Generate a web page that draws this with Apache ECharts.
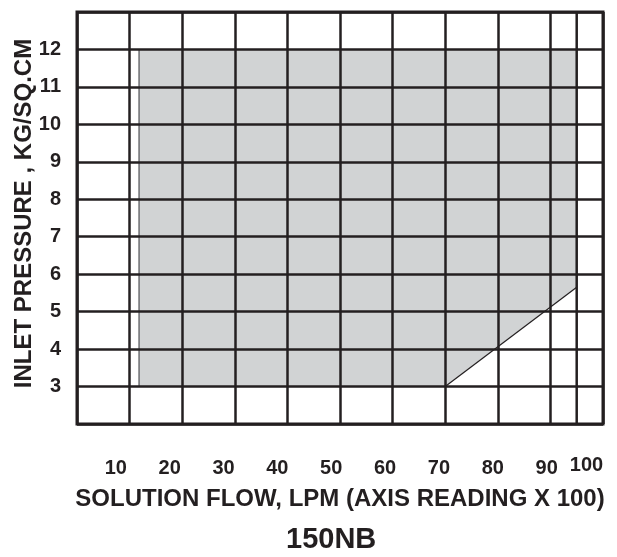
<!DOCTYPE html>
<html>
<head>
<meta charset="utf-8">
<script src="https://cdn.jsdelivr.net/npm/echarts@6/dist/echarts.min.js"></script>
<style>
html,body{margin:0;padding:0;background:#fff;}
#chart{width:617px;height:557px;}
</style>
</head>
<body>
<div id="chart"></div>
<script>
// ---- data ----
const xTickLabels = [10, 20, 30, 40, 50, 60, 70, 80, 90, 100];
const yTickLabels = [3, 4, 5, 6, 7, 8, 9, 10, 11, 12];
const extraGridX = [95];
// operating envelope (shaded area): flow (x) and pressure (y)
const envelopeX = [11.8, 11.8, 95, 95, 70];
const envelopeY = [3, 12, 12, 5.65, 3];

const ink = '#231f20';
const font = "'Liberation Sans', Arial, sans-serif";

const envelope = envelopeX.map((x, i) => [x, envelopeY[i]]);

const chart = echarts.init(document.getElementById('chart'), null, {renderer: 'canvas'});
chart.setOption({
  animation: false,
  backgroundColor: '#ffffff',
  title: {
    text: '150NB',
    left: 286,
    top: 525,
    padding: 0,
    textStyle: {fontFamily: font, fontWeight: 'bold', fontSize: 29, color: ink}
  },
  grid: {
    left: 77, top: 12, right: 14, bottom: 133,
    containLabel: false, outerBoundsMode: 'none',
    show: true, borderColor: ink, borderWidth: 3, backgroundColor: 'transparent'
  },
  xAxis: [{
    type: 'value', min: 0, max: 100, interval: 10, z: 5,
    axisLine: {show: false}, axisTick: {show: false}, axisLabel: {show: false},
    splitLine: {show: true, lineStyle: {color: ink, width: 2.5}},
    name: 'SOLUTION FLOW, LPM (AXIS READING X 100)',
    nameLocation: 'middle', nameGap: 63, nameMoveOverlap: false,
    nameTextStyle: {fontFamily: font, fontWeight: 'bold', fontSize: 24, color: ink}
  }, {
    type: 'value', min: 2.8, max: 100.46, position: 'bottom', z: 5,
    axisLine: {show: false}, axisTick: {show: false}, splitLine: {show: false},
    axisLabel: {
      show: true, customValues: xTickLabels, margin: 34,
      fontFamily: font, fontWeight: 'bold', fontSize: 20, color: ink,
      formatter: v => v === 100 ? '{b|100}' : '{a|' + v + '}',
      rich: {
        a: {fontFamily: font, fontWeight: 'bold', fontSize: 20, color: ink, lineHeight: 20},
        b: {fontFamily: font, fontWeight: 'bold', fontSize: 20, color: ink, lineHeight: 14, padding: [0, 28, 0, 0]}
      }
    }
  }],
  yAxis: {
    type: 'value', min: 2, max: 13, interval: 1, z: 5,
    axisLine: {show: false}, axisTick: {show: false},
    axisLabel: {
      customValues: yTickLabels, margin: 16,
      fontFamily: font, fontWeight: 'bold', fontSize: 20, color: ink
    },
    splitLine: {show: true, lineStyle: {color: ink, width: 2.5}},
    name: 'INLET PRESSURE , KG/SQ.CM',
    nameLocation: 'middle', nameGap: 41, nameRotate: 90, nameMoveOverlap: false,
    nameTextStyle: {fontFamily: font, fontWeight: 'bold', fontSize: 24, color: ink, padding: [0, 0, 0, 9]}
  },
  series: [{
    type: 'custom',
    coordinateSystem: 'cartesian2d',
    xAxisIndex: 0, yAxisIndex: 0,
    z: 1,
    data: [envelope[0]],
    silent: true,
    renderItem: function (params, api) {
      const pts = envelope.map(p => api.coord(p));
      return {
        type: 'group',
        children: [
          {type: 'polygon', shape: {points: pts}, style: {fill: '#d1d3d4', stroke: null}},
          {type: 'polyline', shape: {points: [pts[0], pts[1]]}, style: {stroke: '#6d6e71', lineWidth: 1.5, fill: null}},
          {type: 'polyline', shape: {points: [pts[3], pts[4]]}, style: {stroke: ink, lineWidth: 1.2, fill: null}}
        ]
      };
    }
  }, {
    type: 'line',
    xAxisIndex: 0, yAxisIndex: 0,
    z: 6,
    symbol: 'none',
    silent: true,
    data: [[extraGridX[0], 2], [extraGridX[0], 13]],
    lineStyle: {color: ink, width: 2.5}
  }]
});
</script>
</body>
</html>
